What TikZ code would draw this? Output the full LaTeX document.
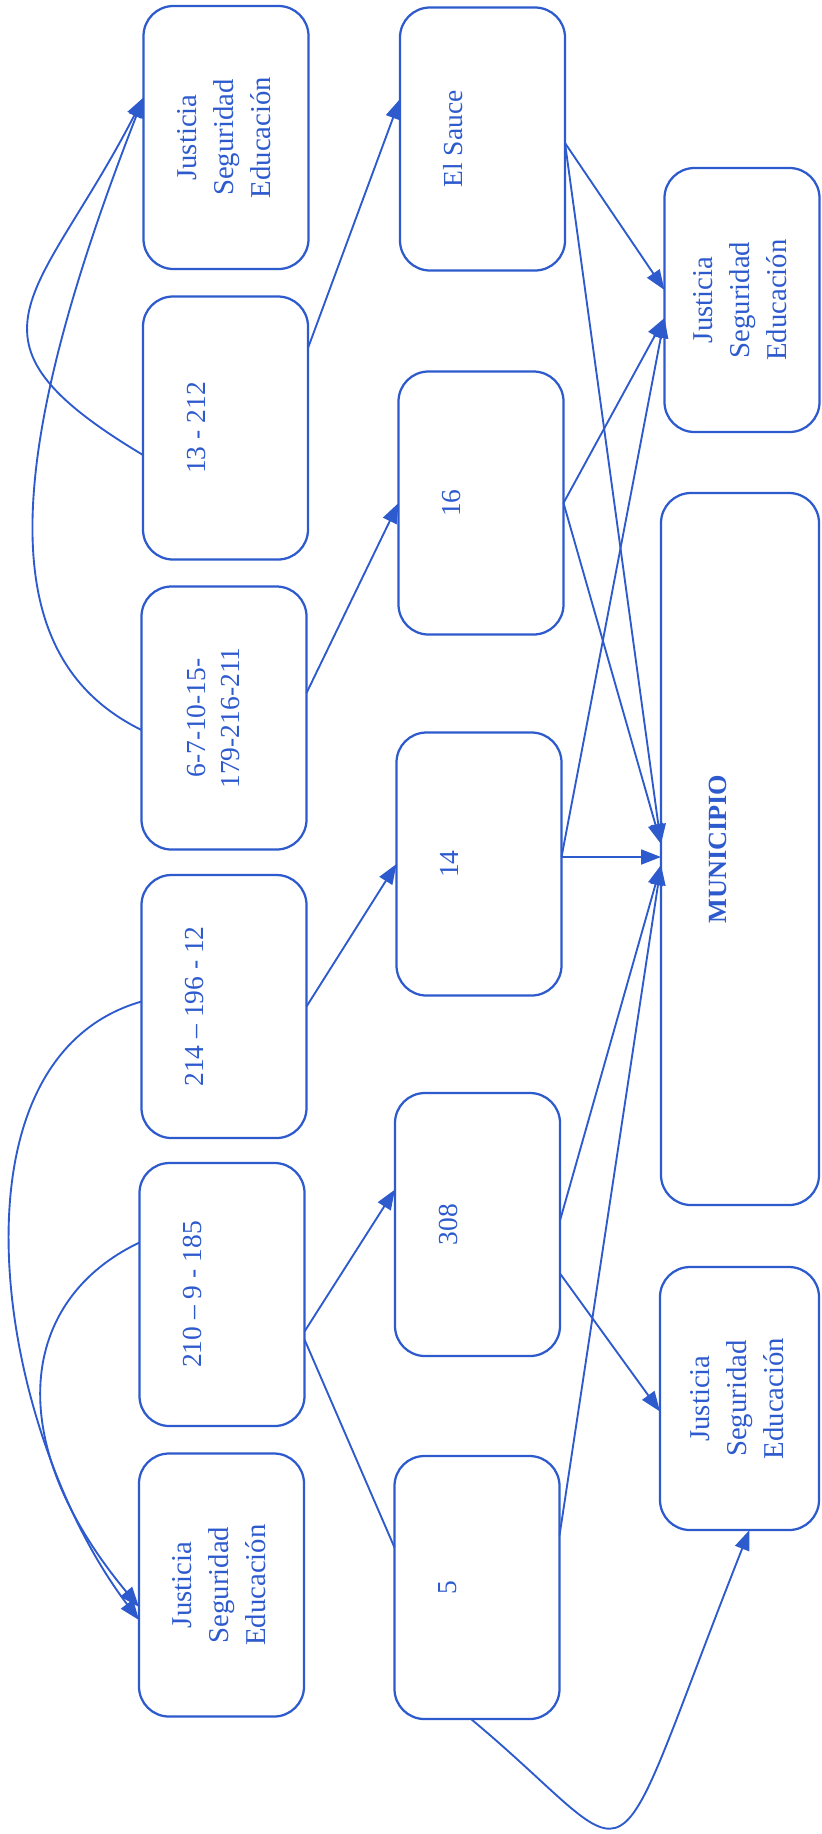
\documentclass[tikz,border=0pt]{standalone}
\usepackage{fontspec}
\usepackage{graphicx}
\setmainfont{Liberation Serif}
\usetikzlibrary{arrows.meta,calc}
\definecolor{azul}{RGB}{45,90,205}
\newcommand{\giro}[1]{\rotatebox{90}{\begin{tabular}{@{}c@{}}#1\end{tabular}}}
\tikzset{
  caja/.style={draw=azul, line width=0.9pt, rounded corners=12pt, text=azul,
    minimum width=66pt, minimum height=105.2pt, inner sep=0pt, outer sep=0pt,
    font=\fontsize{11.5}{14.8}\selectfont},
  cajanum/.style={caja, font=\fontsize{11}{13.6}\selectfont,
    execute at end node={\hspace*{#1}}},
  cajanum/.default=21.6pt,
  flecha/.style={draw=azul, line width=0.75pt, -{Triangle[length=8pt,width=6pt]}},
  linea/.style={draw=azul, line width=0.75pt},
}
\begin{document}
\begin{tikzpicture}[x=0.4pt,y=-0.4pt]
    \useasboundingbox (0,0) rectangle (821,1834);

    % primera columna
    \node[caja] (jseA) at (226,137.5) {\giro{Justicia\\Seguridad\\Educación}};
    \node[cajanum] (n13) at (225.5,428) {\giro{13 - 212}};
    \node[cajanum=6.4pt] (n6) at (224,718) {\giro{6-7-10-15-\\179-216-211}};
    \node[cajanum] (n214) at (224,1006.5) {\giro{214 – 196 - 12}};
    \node[cajanum] (n210) at (222,1294.5) {\giro{210 – 9 - 185}};
    \node[caja] (jseB) at (221.5,1585) {\giro{Justicia\\Seguridad\\Educación}};

    % segunda columna
    \node[cajanum] (sauce) at (482.5,139) {\giro{El Sauce}};
    \node[cajanum] (n16) at (481,503) {\giro{16}};
    \node[cajanum] (n14) at (479,864) {\giro{14}};
    \node[cajanum] (n308) at (477.5,1224.5) {\giro{308}};
    \node[cajanum] (n5) at (477,1587.5) {\giro{5}};

    % tercera columna
    \node[caja, minimum width=62pt, minimum height=105.6pt] (jseC) at (742,300)
        {\giro{Justicia\\Seguridad\\Educación}};
    \node[cajanum=16pt, minimum width=63.2pt, minimum height=284.8pt,
        font=\bfseries\fontsize{10.5}{13}\selectfont] (muni) at (740,849) {\giro{MUNICIPIO}};
    \node[caja, minimum width=63.6pt] (jseD) at (739.5,1398.5)
        {\giro{Justicia\\Seguridad\\Educación}};

    % puntos de salida y llegada
    \coordinate (n13o1) at ($(n13.west)+(0,27)$);
    \coordinate (n13o2) at ($(n13.east)+(0,-80)$);
    \coordinate (n6o1) at ($(n6.west)+(0,12)$);
    \coordinate (n6o2) at ($(n6.east)+(0,-25)$);
    \coordinate (n214o1) at ($(n214.west)+(0,-5)$);
    \coordinate (n210o1) at ($(n210.west)+(0,-52)$);
    \coordinate (n210o2) at ($(n210.east)+(0,37)$);
    \coordinate (n210o3) at ($(n210.east)+(0,45)$);
    \coordinate (sauceo) at ($(sauce.east)+(0,4)$);
    \coordinate (n14o) at ($(n14.east)+(0,-7)$);
    \coordinate (n308o1) at ($(n308.east)+(0,-4)$);
    \coordinate (n308o2) at ($(n308.east)+(0,49)$);
    \coordinate (n5o1) at ($(n5.east)+(0,-52)$);
    \coordinate (n5o2) at ($(n5.south)+(-6,0)$);

    \coordinate (jseAin) at ($(jseA.west)+(0,-40)$);
    \coordinate (jseBin1) at ($(jseB.west)+(0,22)$);
    \coordinate (jseBin2) at ($(jseB.west)+(0,35)$);
    \coordinate (sauceIn) at ($(sauce.west)+(0,-40)$);
    \coordinate (n308in) at ($(n308.west)+(0,-35)$);
    \coordinate (n5in) at ($(n5.west)+(0,-40)$);
    \coordinate (jseCin1) at ($(jseC.west)+(0,-10)$);
    \coordinate (jseCin2) at ($(jseC.west)+(0,18)$);
    \coordinate (muniin1) at ($(muni.west)+(0,-5)$);
    \coordinate (muniin2) at ($(muni.west)+(0,8)$);
    \coordinate (muniin3) at ($(muni.west)+(0,16)$);
    \coordinate (jseDin1) at ($(jseD.west)+(0,13)$);
    \coordinate (jseDin2) at ($(jseD.south)+(10,0)$);

    % curvas
    \draw[flecha] (n13o1) .. controls +(-197,-118) and +(-104,202) .. (jseAin);
    \draw[flecha] (n6o1) .. controls +(-142,-70) and +(-149,382) .. (jseAin);
    \draw[flecha] (n214o1) .. controls +(-202,58) and +(-144,-190) .. (jseBin2);
    \draw[flecha] (n210o1) .. controls +(-120,57) and +(-139,-167) .. (jseBin1);
    \draw[flecha] (n5o2) .. controls +(180,150) and +(-150,380) .. (jseDin2);

    % rectas
    \draw[linea] (n210o3) -- (n5in);
    \foreach \a/\b in {n13o2/sauceIn, n6o2/n16.west, n214.east/n14.west, n210o2/n308in,
        sauceo/jseCin1, sauceo/muniin1, n16.east/jseCin2, n16.east/muniin1,
        n14o/jseCin2, n14o/muniin2, n308o1/muniin3, n308o2/jseDin1, n5o1/muniin3}
        \draw[flecha] (\a) -- (\b);
\end{tikzpicture}
\end{document}
